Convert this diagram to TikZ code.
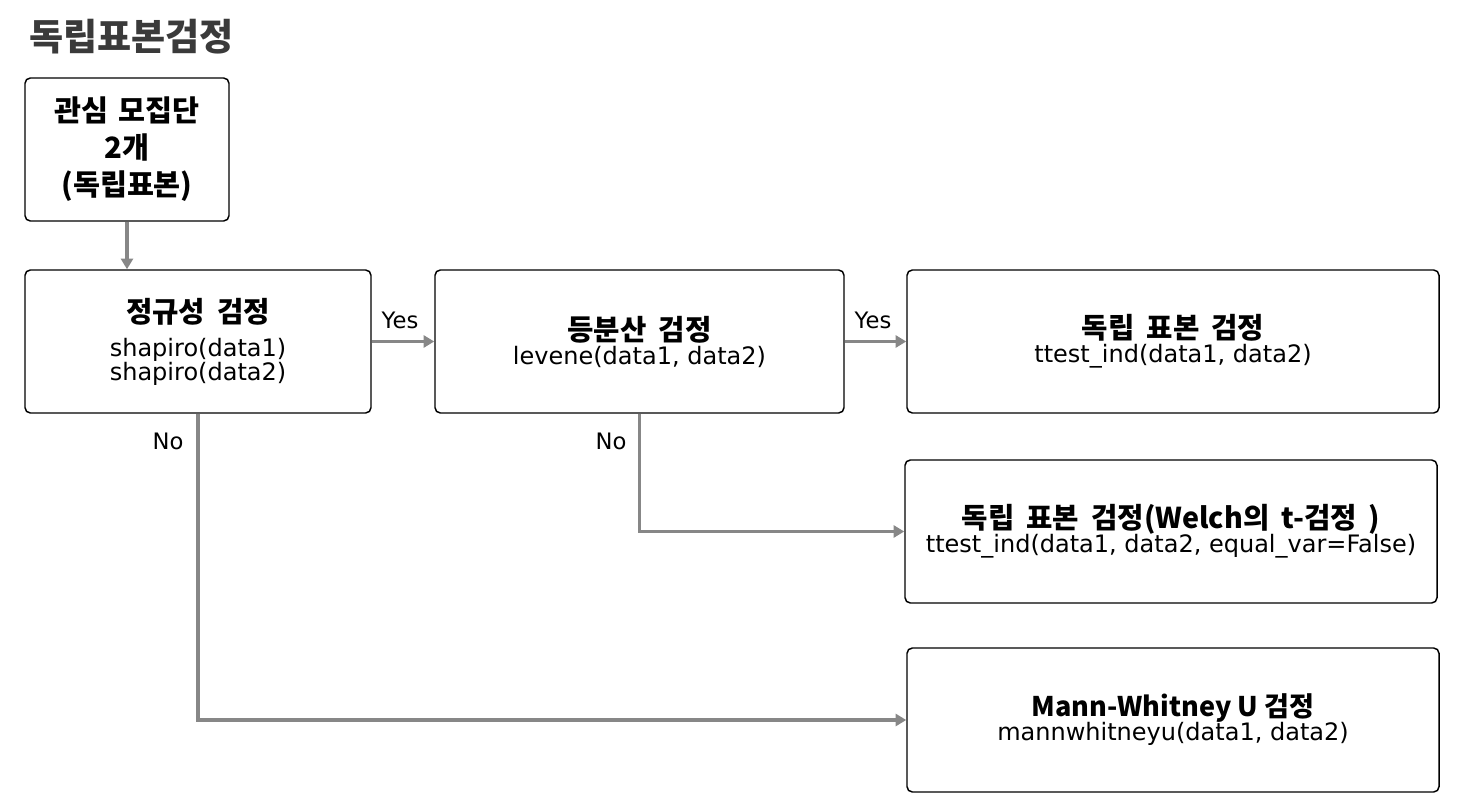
\documentclass[tikz,border=0pt]{standalone}
\usepackage{fontspec}
\setmainfont{Noto Sans CJK KR}
\newfontfamily\latinf{DejaVu Sans}
\usetikzlibrary{arrows.meta}
\definecolor{arr}{HTML}{878787}
\definecolor{ttl}{HTML}{3A3A3A}
\newcommand{\hdf}{\fontsize{21.5}{18}\selectfont\bfseries\spaceskip=9pt\relax}
\newcommand{\hdl}{\fontsize{20.3}{18}\selectfont\bfseries}
\newcommand{\rgf}{\latinf\fontsize{18}{18}\selectfont}
\newcommand{\boxfont}{\fontsize{10}{18}\selectfont\lineskiplimit=-100pt\relax}
\newcommand{\firstfont}{\fontsize{22}{27.75}\selectfont\bfseries\lineskiplimit=-100pt\spaceskip=8pt\relax}
\newcommand{\lblfont}{\latinf\fontsize{17}{18}\selectfont}
\newcommand{\ttlfont}{\fontsize{27.8}{30}\selectfont\bfseries}
\tikzset{
  box/.style={draw=black, line width=1.1pt, rounded corners=4pt, align=center, inner sep=0pt, minimum height=107.25pt, font=\boxfont},
  conn/.style={draw=arr, line width=2.6pt, -{Triangle[length=8pt,width=9pt]}},
  lbl/.style={font=\lblfont, inner sep=0pt}
}
\begin{document}
\begin{tikzpicture}[x=0.75pt,y=-0.75pt]
\useasboundingbox (0,0) rectangle (1458,812);
\node[anchor=west, text=ttl, inner sep=0pt, font=\ttlfont] (title) at (29,37) {독립표본검정};
\node[box, minimum width=153pt, font=\firstfont] (b1) at (127,149.5) {관심 모집단\\2개\\(독립표본)};
\node[box, minimum width=259.5pt] (b2) at (198,341.5) {{\hdf 정규성 검정}\\[7.5pt]{\rgf shapiro(data1)}\\{\rgf shapiro(data2)}};
\node[box, minimum width=306.75pt] (b3) at (639.5,341.5) {{\hdf 등분산 검정}\\{\rgf levene(data1, data2)}};
\node[box, minimum width=399pt] (b4) at (1173,341.5) {{\hdf 독립 표본 검정}\\{\rgf ttest\_ind(data1, data2)}};
\node[box, minimum width=399pt] (b5) at (1171,531.5) {{\hdf 독립 표본 검정(Welch의 t-검정 )}\\{\rgf ttest\_ind(data1, data2, equal\_var=False)}};
\node[box, minimum width=399pt, minimum height=108pt] (b6) at (1173,720) {{\hdl Mann-Whitney U 검정}\\{\rgf mannwhitneyu(data1, data2)}};
\draw[conn] (b1.south) -- (b1.south |- b2.north);
\draw[conn] (b2.east) -- (b3.west);
\draw[conn] (b3.east) -- (b4.west);
\draw[conn] (b2.south) |- (b6.west);
\draw[conn] (b3.south) |- (b5.west);
\node[lbl] (y1) at (400,320) {Yes};
\node[lbl] (y2) at (873,320) {Yes};
\node[lbl] (n1) at (168,441) {No};
\node[lbl] (n2) at (611,441) {No};
\end{tikzpicture}
\end{document}
